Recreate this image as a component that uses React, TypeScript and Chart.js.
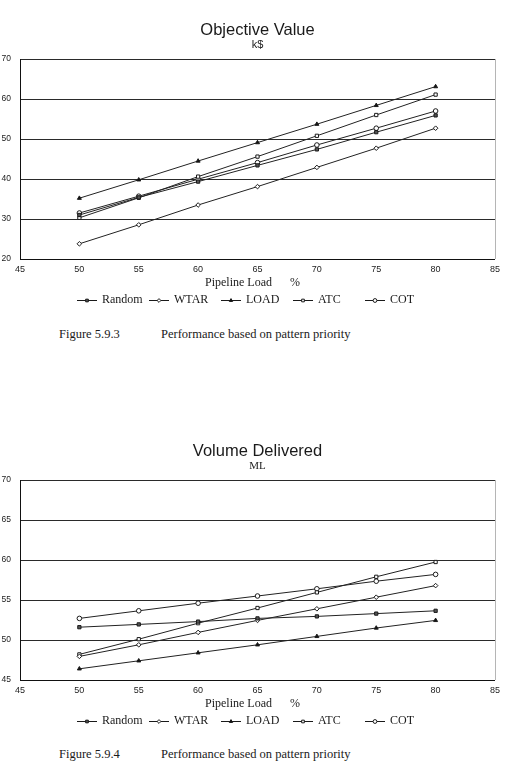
import React, { useEffect, useRef } from 'react';
import { Chart, registerables } from 'chart.js';
import { drawPoint } from 'chart.js/helpers';

Chart.register(...registerables);

// Pipeline load, %
const loads = [50, 55, 60, 65, 70, 75, 80];
const seriesNames = ['Random', 'WTAR', 'LOAD', 'ATC', 'COT'];

// Objective value, k$
const objRandom = [31.0, 35.4, 39.35, 43.4, 47.4, 51.7, 55.9];
const objWtar = [23.8, 28.55, 33.5, 38.1, 42.9, 47.7, 52.7];
const objLoad = [35.2, 39.8, 44.5, 49.1, 53.7, 58.4, 63.1];
const objAtc = [30.3, 35.3, 40.6, 45.6, 50.8, 56.0, 61.1];
const objCot = [31.5, 35.7, 39.95, 44.1, 48.5, 52.7, 57.0];

// Volume delivered, ML
const volRandom = [51.6, 51.95, 52.3, 52.7, 52.95, 53.3, 53.65];
const volWtar = [47.95, 49.4, 50.95, 52.45, 53.9, 55.35, 56.8];
const volLoad = [46.4, 47.4, 48.4, 49.4, 50.45, 51.5, 52.45];
const volAtc = [48.2, 50.1, 52.1, 54.0, 55.95, 57.9, 59.75];
const volCot = [52.7, 53.65, 54.6, 55.5, 56.4, 57.35, 58.2];

const xTicks = { min: 45, max: 85, step: 5 };
const objTicks = { min: 20, max: 70, step: 10 };
const volTicks = { min: 45, max: 70, step: 5 };

const markerStyles: Record<string, { pointStyle: string; fill: string }> = {
  Random: { pointStyle: 'rect', fill: '#555' },
  WTAR: { pointStyle: 'rectRot', fill: '#fff' },
  LOAD: { pointStyle: 'triangle', fill: '#111' },
  ATC: { pointStyle: 'rect', fill: '#fff' },
  COT: { pointStyle: 'circle', fill: '#fff' },
};

const INK = '#1a1a1a';
const SERIF = '"Liberation Serif", "Times New Roman", serif';
const SANS = '"Liberation Sans", Arial, sans-serif';

// Draws the heading, axis caption, legend and right frame edge around the plot.
const panelText = {
  id: 'panelText',
  afterDraw(chart: any, _args: any, opts: any) {
    const { ctx, chartArea } = chart;
    const cx = (chartArea.left + chartArea.right) / 2;
    ctx.save();
    ctx.fillStyle = INK;
    ctx.textAlign = 'center';
    ctx.textBaseline = 'middle';
    ctx.font = `16.5px ${SANS}`;
    ctx.fillText(opts.title, cx, chartArea.top - 29);
    ctx.font = opts.subFont;
    ctx.fillText(opts.subtitle, cx, chartArea.top - 14);

    // right edge of the frame
    ctx.strokeStyle = '#b5b5b5';
    ctx.lineWidth = 1;
    ctx.beginPath();
    ctx.moveTo(Math.round(chartArea.right) + 0.5, chartArea.top);
    ctx.lineTo(Math.round(chartArea.right) + 0.5, chartArea.bottom);
    ctx.stroke();

    ctx.font = `12px ${SERIF}`;
    ctx.fillText('Pipeline Load      %', chart.width / 2, chartArea.bottom + 24);

    // legend: equal-width entries with a short line and marker
    const itemW = 72;
    const startX = chart.width / 2 - 175.5;
    const ly = chartArea.bottom + 41;
    ctx.textAlign = 'left';
    chart.data.datasets.forEach((ds: any, i: number) => {
      const x0 = startX + i * itemW;
      ctx.strokeStyle = INK;
      ctx.lineWidth = 1;
      ctx.beginPath();
      ctx.moveTo(x0, ly + 0.5);
      ctx.lineTo(x0 + 20, ly + 0.5);
      ctx.stroke();
      ctx.fillStyle = ds.pointBackgroundColor;
      ctx.strokeStyle = INK;
      drawPoint(ctx, { pointStyle: ds.pointStyle, radius: 1.9, rotation: 0, borderWidth: 1 } as any, x0 + 10, ly + 0.5);
      ctx.fillStyle = INK;
      ctx.fillText(ds.label, x0 + 25, ly);
    });
    ctx.restore();
  },
};

interface PanelProps {
  top: number;
  height: number;
  plotTop: number;
  plotBottom: number;
  title: string;
  subtitle: string;
  subFont: string;
  values: number[][];
  yRange: { min: number; max: number; step: number };
}

function Panel({ top, height, plotTop, plotBottom, title, subtitle, subFont, values, yRange }: PanelProps) {
  const ref = useRef<HTMLCanvasElement>(null);

  useEffect(() => {
    if (!ref.current) return;
    const datasets = seriesNames.map((name, i) => ({
      label: name,
      data: loads.map((x, j) => ({ x, y: values[i][j] })),
      borderColor: '#222',
      borderWidth: 1,
      pointStyle: markerStyles[name].pointStyle,
      pointRadius: 2.3,
      pointBorderWidth: 1,
      pointBorderColor: INK,
      pointBackgroundColor: markerStyles[name].fill,
      tension: 0,
      fill: false,
    }));
    const chart = new Chart(ref.current, {
      type: 'line',
      data: { datasets },
      plugins: [panelText],
      options: {
        responsive: false,
        animation: false,
        events: [],
        layout: { padding: { top: plotTop, right: 6, left: 0, bottom: 0 } },
        plugins: {
          legend: { display: false },
          tooltip: { enabled: false },
          title: { display: false },
          panelText: { title, subtitle, subFont },
        } as any,
        scales: {
          x: {
            type: 'linear',
            min: xTicks.min,
            max: xTicks.max,
            ticks: { stepSize: xTicks.step, font: { family: SANS, size: 9 }, color: '#222', padding: 5, maxRotation: 0 },
            grid: { display: false, drawTicks: false },
            border: { display: true, color: '#111', width: 1 },
            afterFit: (s: any) => {
              s.height = height - plotBottom;
            },
          },
          y: {
            type: 'linear',
            min: yRange.min,
            max: yRange.max,
            ticks: { stepSize: yRange.step, font: { family: SANS, size: 8.5 }, color: '#222', padding: 9 },
            grid: { color: '#2a2a2a', lineWidth: 1, drawTicks: false },
            border: { display: true, color: '#111', width: 1 },
            afterFit: (s: any) => {
              s.width = 20;
            },
          },
        },
      } as any,
    });
    return () => chart.destroy();
  }, []);

  return (
    <canvas
      ref={ref}
      width={505}
      height={height}
      style={{ position: 'absolute', left: 0, top, width: 505, height }}
    />
  );
}

const captionStyle: React.CSSProperties = {
  position: 'absolute',
  fontFamily: SERIF,
  fontSize: 12.5,
  color: INK,
  whiteSpace: 'nowrap',
  lineHeight: '14px',
};

export default function App() {
  return (
    <div style={{ position: 'absolute', left: 0, top: 0, width: 505, height: 767, background: '#fff', overflow: 'hidden' }}>
      <Panel
        top={0}
        height={315}
        plotTop={59}
        plotBottom={259}
        title="Objective Value"
        subtitle="k$"
        subFont={`11px ${SANS}`}
        values={[objRandom, objWtar, objLoad, objAtc, objCot]}
        yRange={objTicks}
      />
      <div style={{ ...captionStyle, left: 59, top: 327 }}>Figure 5.9.3</div>
      <div style={{ ...captionStyle, left: 161, top: 327 }}>Performance based on pattern priority</div>

      <Panel
        top={400}
        height={330}
        plotTop={80}
        plotBottom={280}
        title="Volume Delivered"
        subtitle="ML"
        subFont={`11px ${SERIF}`}
        values={[volRandom, volWtar, volLoad, volAtc, volCot]}
        yRange={volTicks}
      />
      <div style={{ ...captionStyle, left: 59, top: 747 }}>Figure 5.9.4</div>
      <div style={{ ...captionStyle, left: 161, top: 747 }}>Performance based on pattern priority</div>
    </div>
  );
}
